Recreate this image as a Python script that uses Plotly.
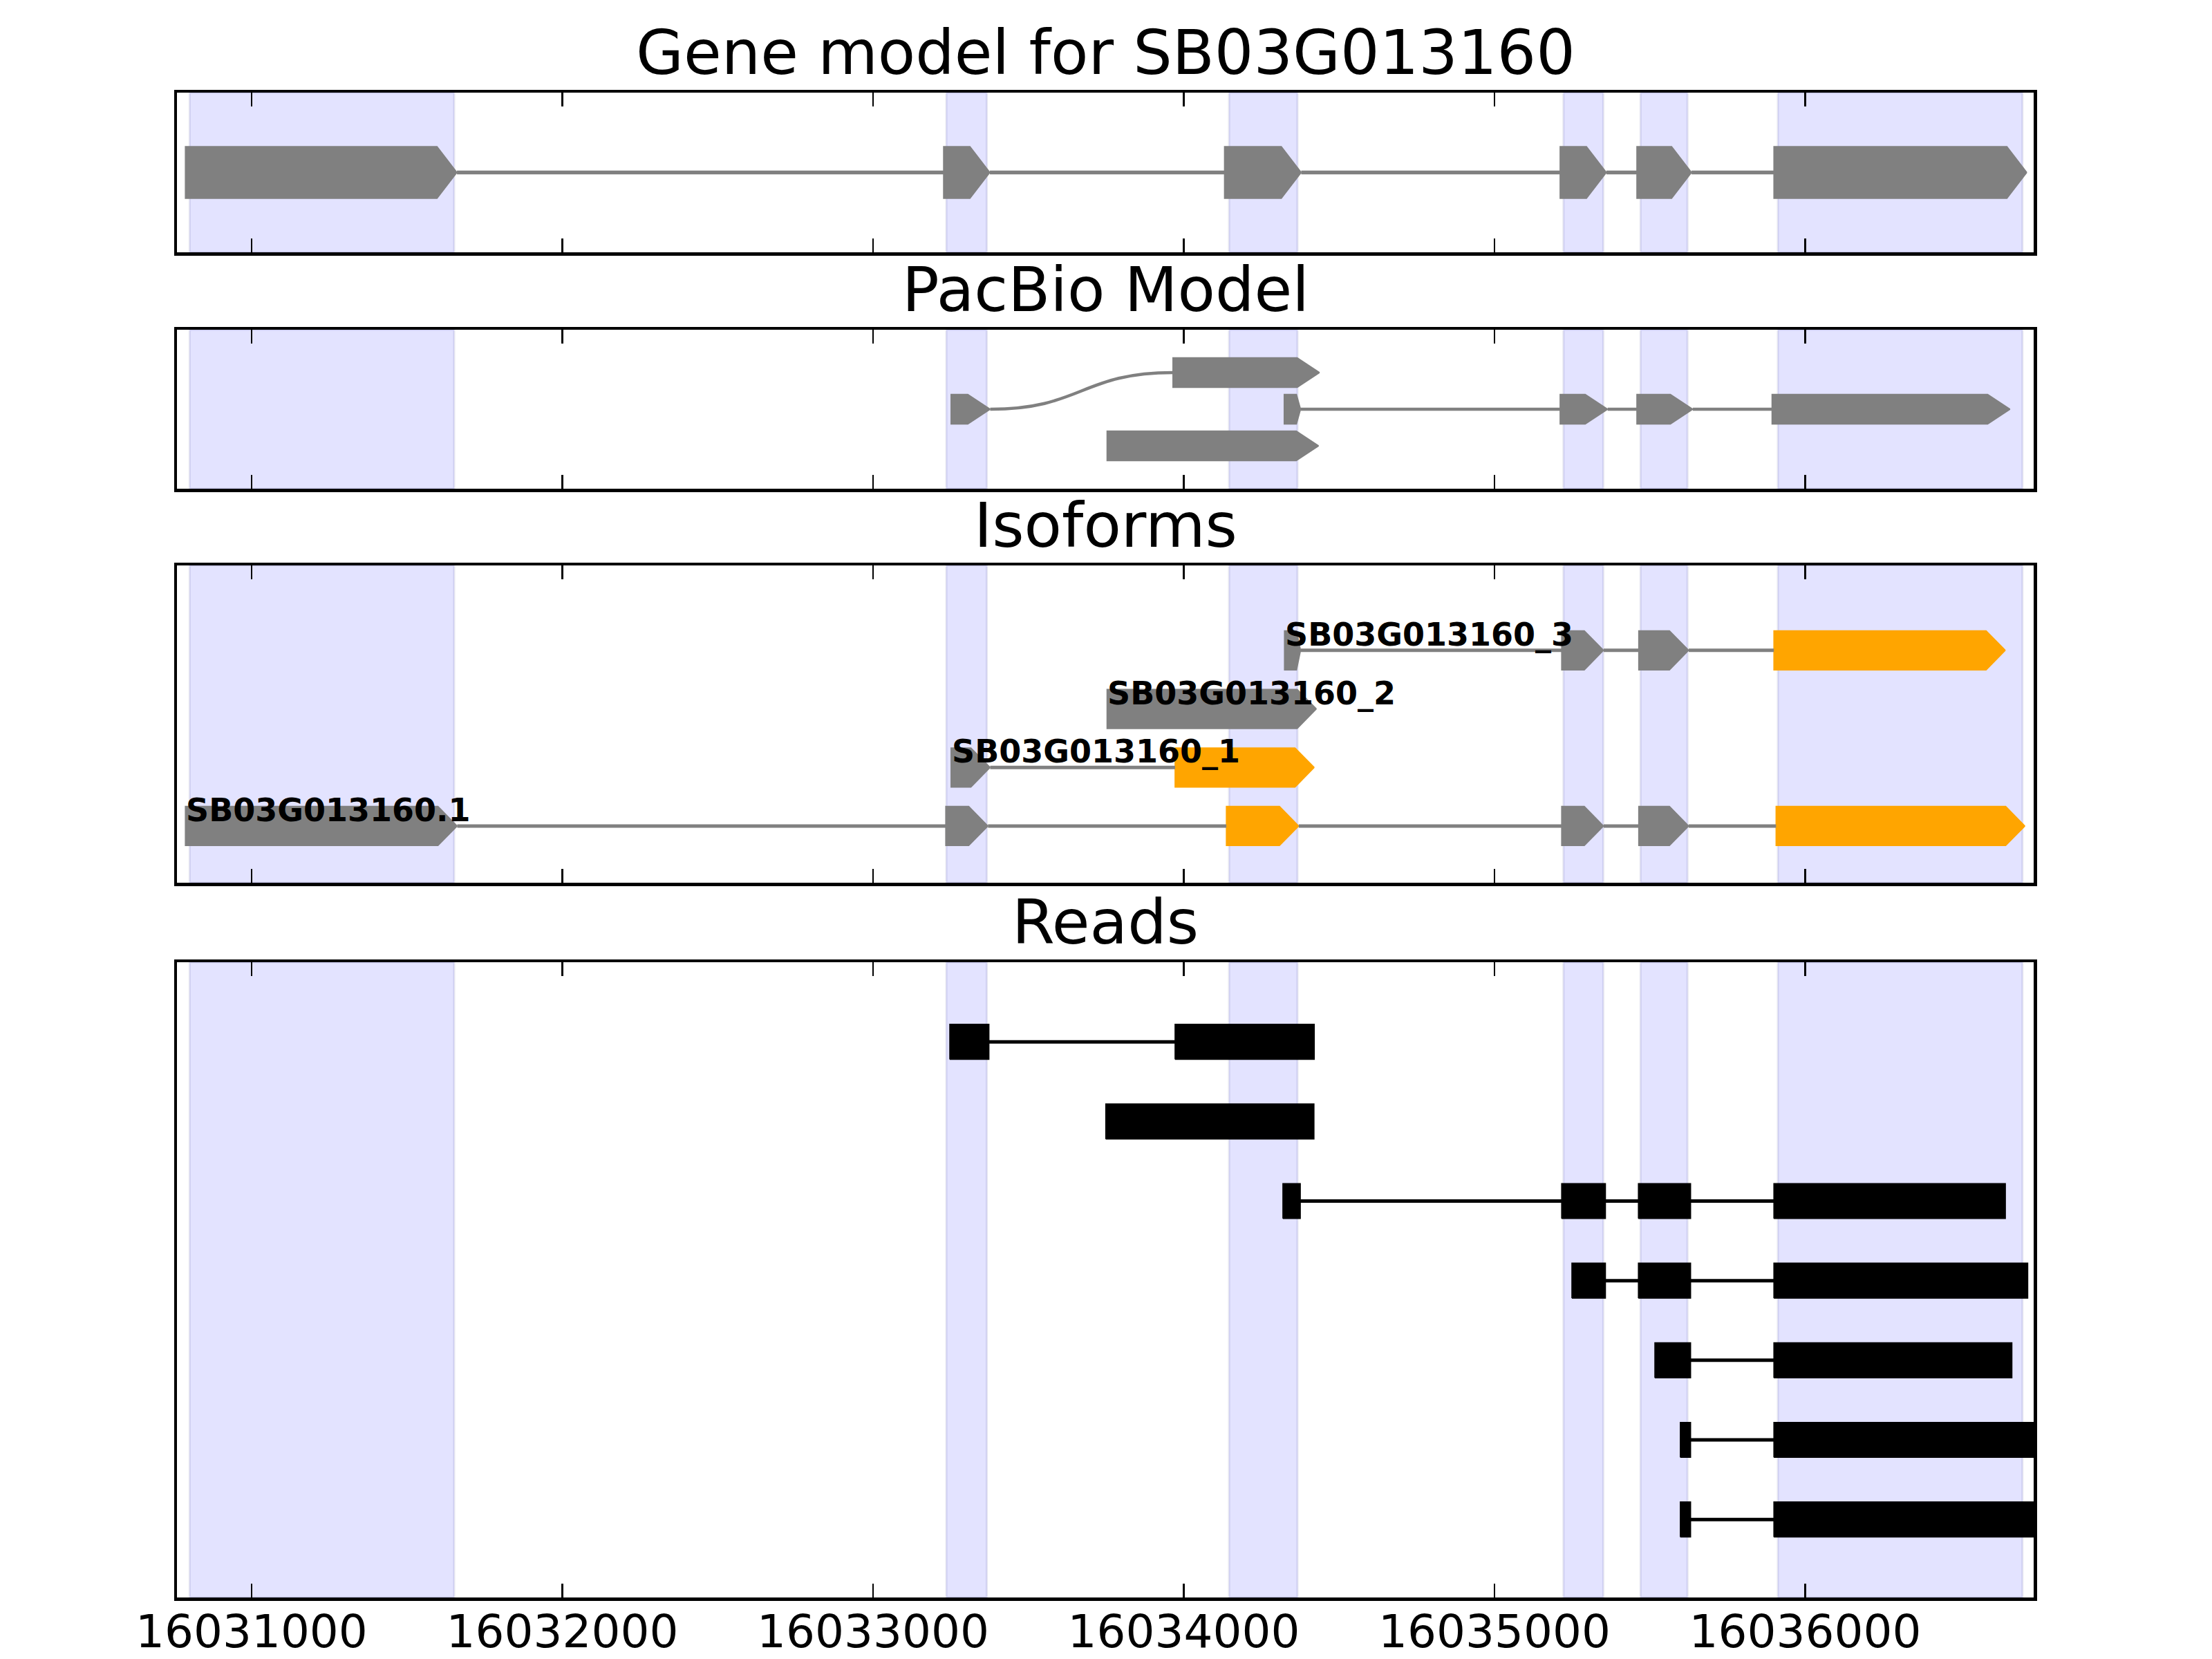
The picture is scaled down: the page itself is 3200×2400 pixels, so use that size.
import plotly.graph_objects as go

W, H = 3200, 2400
X_RANGE = [16030760, 16036735]
X_TICKS = [16031000, 16032000, 16033000, 16034000, 16035000, 16036000]

TITLES = ["Gene model for SB03G013160", "PacBio Model", "Isoforms", "Reads"]

# highlighted (gene model exon) regions
BAND_STARTS = [16030801, 16033236, 16034146, 16035222, 16035470, 16035912]
BAND_ENDS = [16031652, 16033366, 16034366, 16035350, 16035621, 16036699]

# gene model exons
GENE_STARTS = [16030787, 16033227, 16034131, 16035211, 16035458, 16035899]
GENE_ENDS = [16031661, 16033376, 16034378, 16035360, 16035634, 16036713]

# PacBio model transcripts: (start, end, row)
PACBIO_T1 = [(16033251, 16033377, 1), (16033965, 16034437, 2)]
PACBIO_T2 = [(16034323, 16034376, 1), (16035211, 16035364, 1),
             (16035458, 16035638, 1), (16035893, 16036659, 1)]
PACBIO_T3 = [(16033753, 16034434, 0)]
PACBIO = [PACBIO_T1, PACBIO_T2, PACBIO_T3]

# isoforms (row 0 at bottom)
ISO_NAMES = ["SB03G013160.1", "SB03G013160_1", "SB03G013160_2", "SB03G013160_3"]
ISO_EXONS = [
    [(16030787, 16031662), (16033234, 16033370), (16034137, 16034370),
     (16035216, 16035351), (16035464, 16035625), (16035906, 16036707)],
    [(16033251, 16033377), (16033972, 16034420)],
    [(16033753, 16034427)],
    [(16034324, 16034376), (16035216, 16035351), (16035464, 16035625),
     (16035899, 16036644)],
]
ISO_HIGHLIGHT = [[0, 0, 1, 0, 0, 1], [0, 1], [0], [0, 0, 0, 1]]

# reads, top to bottom
READS = [
    [(16033247, 16033373), (16033972, 16034420)],
    [(16033749, 16034419)],
    [(16034319, 16034375), (16035216, 16035357), (16035463, 16035631), (16035899, 16036644)],
    [(16035249, 16035357), (16035463, 16035631), (16035899, 16036716)],
    [(16035516, 16035631), (16035899, 16036665)],
    [(16035598, 16035631), (16035899, 16036760)],
    [(16035598, 16035631), (16035899, 16036760)],
]

GRAY = "#808080"
ORANGE = "#FFA500"
FONT = "DejaVu Sans"

# panel pixel geometry (top, bottom) and y ranges
PANELS_PX = [(134, 365), (477, 707), (818, 1277), (1392, 2311)]
Y_RANGES = [[-1.54, 1.54], [-1.17, 3.17], [-0.968, 4.45], [-0.98, 7.0]]
X_DOM = [256 / W, 2942 / W]


def arrow_xy(s, e, yc, h, hl):
    L = e - s
    if L < hl:
        hl = 0.25 * L
    xs = [e, e - hl, s, s, e - hl, e, None]
    ys = [yc, yc - h / 2, yc - h / 2, yc + h / 2, yc + h / 2, yc, None]
    return xs, ys


def rect_xy(s, e, yc, h):
    return [s, e, e, s, s, None], [yc - h / 2, yc - h / 2, yc + h / 2, yc + h / 2, yc - h / 2, None]


fig = go.Figure()


def add_poly(xs, ys, color, ax, outline=1.5):
    fig.add_trace(go.Scatter(x=xs, y=ys, fill="toself", fillcolor=color, mode="lines",
                             line=dict(color=color, width=outline), xaxis="x" + ax, yaxis="y" + ax,
                             hoverinfo="skip", showlegend=False))


def add_lines(xs, ys, color, width, ax):
    fig.add_trace(go.Scatter(x=xs, y=ys, mode="lines", line=dict(color=color, width=width),
                             xaxis="x" + ax, yaxis="y" + ax, hoverinfo="skip", showlegend=False,
                             connectgaps=False))


# ---- Panel 1: gene model
lx, ly = [], []
for i in range(len(GENE_STARTS) - 1):
    lx += [GENE_ENDS[i], GENE_STARTS[i + 1], None]
    ly += [0, 0, None]
add_lines(lx, ly, GRAY, 5.5, "")
px, py = [], []
for s, e in zip(GENE_STARTS, GENE_ENDS):
    a, b = arrow_xy(s, e, 0, 1.0, 64)
    px += a
    py += b
add_poly(px, py, GRAY, "")

# ---- Panel 2: PacBio model
curves = []
lx, ly, px, py = [], [], [], []
for tr in PACBIO:
    for i in range(len(tr) - 1):
        s0, e0, r0 = tr[i]
        s1, e1, r1 = tr[i + 1]
        if r0 == r1:
            lx += [e0, s1, None]
            ly += [r0, r1, None]
        else:
            curves.append((e0, r0, s1, r1))
    for s, e, r in tr:
        a, b = arrow_xy(s, e, r, 0.81, 72)
        px += a
        py += b
add_lines(lx, ly, GRAY, 4.5, "2")
add_poly(px, py, GRAY, "2")

# ---- Panel 3: isoforms
lx, ly = [], []
gx, gy, ox, oy = [], [], [], []
for row, (exons, hl) in enumerate(zip(ISO_EXONS, ISO_HIGHLIGHT)):
    for i in range(len(exons) - 1):
        lx += [exons[i][1], exons[i + 1][0], None]
        ly += [row, row, None]
    for (s, e), f in zip(exons, hl):
        a, b = arrow_xy(s, e, row, 0.67, 62)
        if f:
            ox += a
            oy += b
        else:
            gx += a
            gy += b
add_poly(gx, gy, GRAY, "3")
add_poly(ox, oy, ORANGE, "3")
add_lines(lx, ly, GRAY, 5, "3")

# ---- Panel 4: reads
lx, ly, px, py = [], [], [], []
n = len(READS)
for i, exons in enumerate(READS):
    row = n - 1 - i
    for j in range(len(exons) - 1):
        lx += [exons[j][1], exons[j + 1][0], None]
        ly += [row, row, None]
    for s, e in exons:
        a, b = rect_xy(s, e, row, 0.44)
        px += a
        py += b
add_lines(lx, ly, "black", 5, "4")
add_poly(px, py, "black", "4", outline=1.5)

# ---- shapes: bands and curves
shapes = []
for k in range(4):
    ax = "" if k == 0 else str(k + 1)
    for s, e in zip(BAND_STARTS, BAND_ENDS):
        shapes.append(dict(type="rect", xref="x" + ax, yref="y" + ax + " domain",
                           x0=s, x1=e, y0=0, y1=1, layer="below",
                           fillcolor="rgba(0,0,255,0.11)",
                           line=dict(color="rgba(60,60,150,0.13)", width=3)))
for (x0, y0, x1, y1) in curves:
    xm = (x0 + x1) / 2
    shapes.append(dict(type="path", xref="x2", yref="y2",
                       path=f"M {x0},{y0} C {xm},{y0} {xm},{y1} {x1},{y1}",
                       line=dict(color=GRAY, width=4.5), layer="above"))

# ---- annotations
annotations = []
xc = (X_DOM[0] + X_DOM[1]) / 2
for (top, bot), t in zip(PANELS_PX, TITLES):
    annotations.append(dict(text=t, x=xc, y=1 - top / H, xref="paper", yref="paper",
                            xanchor="center", yanchor="bottom", yshift=4, showarrow=False,
                            font=dict(family=FONT, size=89, color="black")))
for row, (name, exons) in enumerate(zip(ISO_NAMES, ISO_EXONS)):
    annotations.append(dict(text=name, x=exons[0][0], y=row, xref="x3", yref="y3",
                            xanchor="left", yanchor="bottom", yshift=-5, showarrow=False,
                            borderpad=0,
                            font=dict(family=FONT, size=46, color="black", weight="bold")))

layout = dict(width=W, height=H, margin=dict(l=0, r=0, t=0, b=0, pad=0, autoexpand=False),
              paper_bgcolor="white", plot_bgcolor="white",
              shapes=shapes, annotations=annotations, showlegend=False,
              font=dict(family=FONT, color="black"))

for k, ((top, bot), yr) in enumerate(zip(PANELS_PX, Y_RANGES)):
    ax = "" if k == 0 else str(k + 1)
    layout["xaxis" + ax] = dict(domain=X_DOM, range=X_RANGE, anchor="y" + ax,
                                tickvals=X_TICKS, ticktext=[str(v) for v in X_TICKS],
                                ticks="inside", ticklen=20, tickwidth=2.5, tickcolor="black",
                                showticklabels=(k == 3), tickfont=dict(family=FONT, size=66, color="black"),
                                ticklabelstandoff=-12,
                                showline=True, linecolor="black", linewidth=4.5, mirror="ticks",
                                showgrid=False, zeroline=False, fixedrange=True, automargin=False)
    layout["yaxis" + ax] = dict(domain=[1 - bot / H, 1 - top / H], range=yr, anchor="x" + ax,
                                showticklabels=False, ticks="", showline=True, linecolor="black",
                                linewidth=4.5, mirror=True, showgrid=False, zeroline=False,
                                fixedrange=True, automargin=False)

fig.update_layout(**layout)
fig.write_html("out.html", config={"displayModeBar": False, "staticPlot": True},
               post_script="document.body.style.margin='0';document.body.style.overflow='hidden';")
